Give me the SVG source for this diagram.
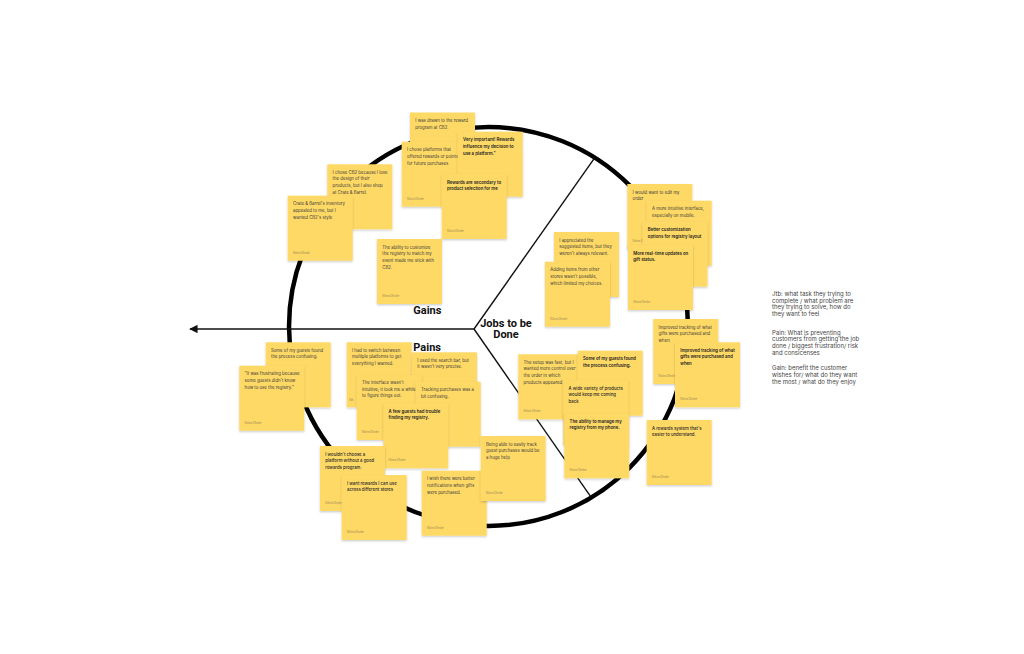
<svg xmlns="http://www.w3.org/2000/svg" width="1024" height="654" viewBox="0 0 1024 654">
<defs>
<filter id="sh" x="-20%" y="-20%" width="140%" height="150%">
<feDropShadow dx="0" dy="1.2" stdDeviation="1.2" flood-color="#000" flood-opacity="0.2"/>
</filter>
<marker id="ah" viewBox="0 0 10 10" refX="9" refY="5" markerWidth="6" markerHeight="6" orient="auto-start-reverse" markerUnits="strokeWidth">
<path d="M0,0 L10,5 L0,10 Z" fill="#111"/>
</marker>
<style>
.n rect{fill:#FFD966;filter:url(#sh)}
.n text{font-family:Inter,"Liberation Sans",sans-serif;font-size:4.3px;fill:#3a3a3a}
.n text.b{font-weight:600;fill:#222}
.n text.m{font-weight:500;fill:#2a2a2a}
.n text.a{font-size:2.8px;fill:#9a8a55;font-weight:400}
.lbl{font-family:Roboto,"Liberation Sans",sans-serif;font-weight:700;font-size:11px;fill:#111}
.lg{font-family:Inter,"Liberation Sans",sans-serif;font-size:6px;fill:#444}
</style>
</defs>
<rect width="1024" height="654" fill="#fff"/>
<g id="connectors">
<circle cx="488.5" cy="326.5" r="199.5" fill="none" stroke="#000" stroke-width="4.5"/>
<line x1="474" y1="329" x2="594.3" y2="158.3" stroke="#111" stroke-width="1.4"/>
<line x1="474" y1="329" x2="590.7" y2="496.7" stroke="#111" stroke-width="1.4"/>
<line x1="474" y1="329" x2="190" y2="329" stroke="#111" stroke-width="1.4" marker-end="url(#ah)"/>
</g>
<g id="labels">
<text class="lbl" x="413.3" y="314">Gains</text>
<text class="lbl" x="413.3" y="351">Pains</text>
<text class="lbl" text-anchor="middle"><tspan x="506" y="327">Jobs to be</tspan><tspan x="506" y="338">Done</tspan></text>
</g>
<g id="legend">
<text class="lg" x="772" y="296">Jtb: what task they trying to</text>
<text class="lg" x="772" y="302.7">complete / what problem are</text>
<text class="lg" x="772" y="309.4">they trying to solve, how do</text>
<text class="lg" x="772" y="316.1">they want to feel</text>
<text class="lg" x="772" y="334.7">Pain: What is preventing</text>
<text class="lg" x="772" y="341.4">customers from getting the job</text>
<text class="lg" x="772" y="348.1">done / biggest frustration/ risk</text>
<text class="lg" x="772" y="354.8">and consicenses</text>
<text class="lg" x="772" y="370.3">Gain: benefit the customer</text>
<text class="lg" x="772" y="377">wishes for/ what do they want</text>
<text class="lg" x="772" y="383.7">the most / what do they enjoy</text>
</g>

<g id="n1" class="n" transform="translate(410,112.5)"><rect width="65" height="65"/><text x="5.3" y="9.5">I was drawn to the reward</text><text x="5.3" y="16.2">program at CB2.</text></g>
<g id="n2" class="n" transform="translate(401.7,141.7)"><rect width="65" height="65"/><text x="5.3" y="9.5">I chose platforms that</text><text x="5.3" y="16.2">offered rewards or points</text><text x="5.3" y="22.9">for future purchases</text><text class="a" x="5.3" y="58">Nikita Dhoke</text></g>
<g id="n3" class="n" transform="translate(457.7,131.7)"><rect width="65" height="65"/><text class="b" x="5.3" y="9.5">Very important! Rewards</text><text class="b" x="5.3" y="16.2">influence my decision to</text><text class="b" x="5.3" y="22.9">use a platform."</text></g>
<g id="n4" class="n" transform="translate(441.7,174)"><rect width="65" height="65"/><text class="b" x="5.3" y="9.5">Rewards are secondary to</text><text class="b" x="5.3" y="16.2">product selection for me</text><text class="a" x="5.3" y="58">Nikita Dhoke</text></g>
<g id="n5" class="n" transform="translate(327.3,164.3)"><rect width="65" height="65"/><text x="5.3" y="9.5">I chose CB2 because I love</text><text x="5.3" y="16.2">the design of their</text><text x="5.3" y="22.9">products, but I also shop</text><text x="5.3" y="29.6">at Crate &amp; Barrel.</text></g>
<g id="n6" class="n" transform="translate(287.7,195.7)"><rect width="65" height="65"/><text x="5.3" y="9.5">Crate &amp; Barrel's inventory</text><text x="5.3" y="16.2">appealed to me, but I</text><text x="5.3" y="22.9">wanted CB2's style</text><text class="a" x="5.3" y="58">Nikita Dhoke</text></g>
<g id="n7" class="n" transform="translate(377,239)"><rect width="65" height="65"/><text x="5.3" y="9.5">The ability to customize</text><text x="5.3" y="16.2">the registry to match my</text><text x="5.3" y="22.9">event made me stick with</text><text x="5.3" y="29.6">CB2.</text><text class="a" x="5.3" y="58">Nikita Dhoke</text></g>

<g id="r1" class="n" transform="translate(627.3,184)"><rect width="65" height="65"/><text x="5.3" y="9.5">I would want to edit my</text><text x="5.3" y="16.2">order</text><text class="a" x="5.3" y="58">Nikita Dhoke</text></g>
<g id="r2" class="n" transform="translate(646.7,200.7)"><rect width="65" height="65"/><text x="5.3" y="9.5">A more intuitive interface,</text><text x="5.3" y="16.2">especially on mobile.</text></g>
<g id="r3" class="n" transform="translate(642.5,221.7)"><rect width="65" height="65"/><text class="b" x="5.3" y="9.5">Better customization</text><text class="b" x="5.3" y="16.2">options for registry layout</text></g>
<g id="r4" class="n" transform="translate(628,245)"><rect width="65" height="65"/><text class="b" x="5.3" y="9.5">More real-time updates on</text><text class="b" x="5.3" y="16.2">gift status.</text><text class="a" x="5.3" y="58">Nikita Dhoke</text></g>

<g id="s1" class="n" transform="translate(554,232)"><rect width="65" height="65"/><text x="5.3" y="9.5">I appreciated the</text><text x="5.3" y="16.2">suggested items, but they</text><text x="5.3" y="22.9">weren't always relevant.</text></g>
<g id="s2" class="n" transform="translate(545,261.7)"><rect width="65" height="65"/><text x="5.3" y="9.5">Adding items from other</text><text x="5.3" y="16.2">stores wasn't possible,</text><text x="5.3" y="22.9">which limited my choices.</text><text class="a" x="5.3" y="58">Nikita Dhoke</text></g>

<g id="t1" class="n" transform="translate(653.3,319)"><rect width="65" height="65"/><text x="5.3" y="9.5">Improved tracking of what</text><text x="5.3" y="16.2">gifts were purchased and</text><text x="5.3" y="22.9">when</text><text class="a" x="5.3" y="58">Nikita Dhoke</text></g>
<g id="t2" class="n" transform="translate(675,342.3)"><rect width="65" height="65"/><text class="b" x="5.3" y="9.5">Improved tracking of what</text><text class="b" x="5.3" y="16.2">gifts were purchased and</text><text class="b" x="5.3" y="22.9">when</text><text class="a" x="5.3" y="58">Nikita Dhoke</text></g>
<g id="t3" class="n" transform="translate(646.7,420)"><rect width="65" height="65"/><text class="m" x="5.3" y="9.5">A rewards system that's</text><text class="m" x="5.3" y="16.2">easier to understand.</text><text class="a" x="5.3" y="58">Nikita Dhoke</text></g>

<g id="u1" class="n" transform="translate(518.3,354.3)"><rect width="65" height="65"/><text x="5.3" y="9.5">The setup was fast, but I</text><text x="5.3" y="16.2">wanted more control over</text><text x="5.3" y="22.9">the order in which</text><text x="5.3" y="29.6">products appeared</text><text class="a" x="5.3" y="58">Nikita Dhoke</text></g>
<g id="u2" class="n" transform="translate(577.7,350.7)"><rect width="65" height="65"/><text class="b" x="5.3" y="9.5">Some of my guests found</text><text class="b" x="5.3" y="16.2">the process confusing.</text></g>
<g id="u3" class="n" transform="translate(563.3,380)"><rect width="65" height="65"/><text class="m" x="5.3" y="9.5">A wide variety of products</text><text class="m" x="5.3" y="16.2">would keep me coming</text><text class="m" x="5.3" y="22.9">back</text></g>
<g id="u4" class="n" transform="translate(564.3,413.3)"><rect width="65" height="65"/><text class="b" x="5.3" y="9.5">The ability to manage my</text><text class="b" x="5.3" y="16.2">registry from my phone.</text><text class="a" x="5.3" y="58">Nikita Dhoke</text></g>

<g id="l1" class="n" transform="translate(265.7,342.3)"><rect width="65" height="65"/><text x="5.3" y="9.5">Some of my guests found</text><text x="5.3" y="16.2">the process confusing.</text></g>
<g id="l2" class="n" transform="translate(239.3,365.7)"><rect width="65" height="65"/><text x="5.3" y="9.5">"It was frustrating because</text><text x="5.3" y="16.2">some guests didn't know</text><text x="5.3" y="22.9">how to use the registry."</text><text class="a" x="5.3" y="58">Nikita Dhoke</text></g>

<g id="p1" class="n" transform="translate(346.7,342.3)"><rect width="65" height="65"/><text x="5.3" y="9.5">I had to switch between</text><text x="5.3" y="16.2">multiple platforms to get</text><text x="5.3" y="22.9">everything I wanted.</text><text class="a" x="2.5" y="59">Nik</text></g>
<g id="p2" class="n" transform="translate(412,352.3)"><rect width="65" height="65"/><text x="5.3" y="9.5">I used the search bar, but</text><text x="5.3" y="16.2">it wasn't very precise.</text></g>
<g id="p3" class="n" transform="translate(356.7,375)"><rect width="65" height="65"/><text x="5.3" y="9">The interface wasn't</text><text x="5.3" y="15.6">intuitive; it took me a while</text><text x="5.3" y="22.2">to figure things out.</text><text class="a" x="5.3" y="58">Nikita Dhoke</text></g>
<g id="p4" class="n" transform="translate(415.7,381.7)"><rect width="65" height="65"/><text x="5.3" y="9.5">Tracking purchases was a</text><text x="5.3" y="16.2">bit confusing.</text></g>
<g id="p5" class="n" transform="translate(383.3,403.3)"><rect width="65" height="65"/><text class="b" x="5.3" y="9.5">A few guests had trouble</text><text class="b" x="5.3" y="16.2">finding my registry.</text><text class="a" x="5.3" y="58">Nikita Dhoke</text></g>

<g id="q1" class="n" transform="translate(320,446)"><rect width="65" height="65"/><text class="m" x="5.3" y="9.5">I wouldn't choose a</text><text class="m" x="5.3" y="16.2">platform without a good</text><text class="m" x="5.3" y="22.9">rewards program.</text><text class="a" x="5.3" y="58">Nikita Dhoke</text></g>
<g id="q2" class="n" transform="translate(341.7,475)"><rect width="65" height="65"/><text class="m" x="5.3" y="9.5">I want rewards I can use</text><text class="m" x="5.3" y="16.2">across different stores</text><text class="a" x="5.3" y="58">Nikita Dhoke</text></g>
<g id="q3" class="n" transform="translate(421.7,470.7)"><rect width="65" height="65"/><text x="5.3" y="9.5">I wish there were better</text><text x="5.3" y="16.2">notifications when gifts</text><text x="5.3" y="22.9">were purchased.</text><text class="a" x="5.3" y="58">Nikita Dhoke</text></g>
<g id="u5" class="n" transform="translate(480.7,436)"><rect width="65" height="65"/><text x="5.3" y="9.5">Being able to easily track</text><text x="5.3" y="16.2">guest purchases would be</text><text x="5.3" y="22.9">a huge help</text><text class="a" x="5.3" y="58">Nikita Dhoke</text></g>
</svg>
